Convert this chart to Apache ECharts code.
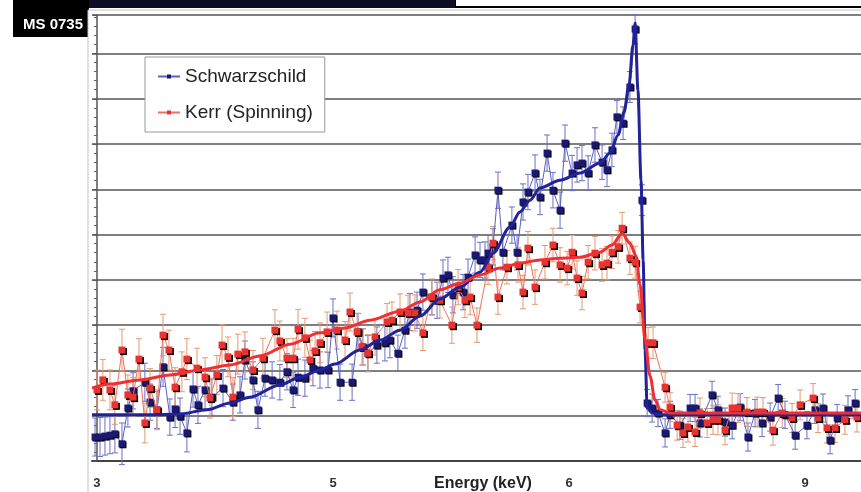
<!DOCTYPE html>
<html>
<head>
<meta charset="utf-8">
<script src="https://cdn.jsdelivr.net/npm/echarts@6/dist/echarts.min.js"></script>
<style>
  html, body { margin: 0; padding: 0; background: #fff; }
  #chart { width: 861px; height: 492px; }
</style>
</head>
<body>
<div id="chart"></div>
<script>
var myChart = echarts.init(document.getElementById('chart'));
var font = 'Liberation Sans, Arial, sans-serif';

// x in label steps (tick 0 = "3", 1 = "5" ...), y in grid steps
var tickPos = [0, 1, 2, 3];
var tickLabels = ['3', '5', '6', '9'];

// [energy, counts, error]
var schwarzschildData = [
    [-0.008,0.53,0.42],[0.013,0.53,0.43],[0.034,0.55,0.42],[0.055,0.57,0.41],[0.076,0.60,0.42],
    [0.106,0.38,0.46],[0.131,1.17,0.42],[0.153,1.55,0.40],[0.203,1.74,0.42],[0.225,1.30,0.40],
    [0.254,1.13,0.41],[0.280,2.08,0.43],[0.309,0.97,0.40],[0.331,1.15,0.41],[0.352,0.99,0.40],
    [0.381,0.62,0.42],[0.407,1.59,0.40],[0.428,1.24,0.41],[0.458,1.57,0.42],[0.487,1.41,0.40],
    [0.534,1.61,0.41],[0.576,1.30,0.40],[0.606,1.46,0.40],[0.627,2.23,0.42],[0.661,1.79,0.40],
    [0.682,1.13,0.41],[0.712,1.83,0.40],[0.742,1.79,0.40],[0.775,1.74,0.39],[0.805,1.97,0.40],
    [0.831,1.57,0.39],[0.852,1.85,0.40],[0.881,1.83,0.40],[0.915,2.05,0.39],[0.945,2.01,0.40],
    [0.979,2.01,0.39],[1.000,3.16,0.42],[1.030,1.74,0.40],[1.081,1.74,0.40],[1.106,2.85,0.41],
    [1.127,2.52,0.40],[1.148,2.38,0.39],[1.186,2.56,0.40],[1.220,2.61,0.40],[1.241,2.67,0.39],
    [1.275,2.38,0.40],[1.305,2.89,0.40],[1.326,3.29,0.41],[1.356,3.33,0.40],[1.381,3.73,0.40],
    [1.419,3.62,0.39],[1.441,3.55,0.40],[1.466,4.04,0.40],[1.487,4.11,0.39],[1.508,3.67,0.40],
    [1.551,3.73,0.39],[1.572,4.06,0.40],[1.602,4.55,0.40],[1.623,4.44,0.39],[1.644,4.44,0.40],
    [1.657,4.59,0.39],[1.678,4.73,0.40],[1.699,5.98,0.40],[1.720,4.61,0.39],[1.758,5.21,0.40],
    [1.780,4.61,0.39],[1.805,5.72,0.40],[1.826,5.94,0.39],[1.856,6.36,0.40],[1.877,5.83,0.39],
    [1.907,6.80,0.40],[1.932,5.98,0.39],[1.962,5.54,0.40],[1.983,7.02,0.40],[2.013,6.36,0.39],
    [2.034,6.54,0.38],[2.055,6.58,0.39],[2.081,6.36,0.38],[2.110,6.98,0.38],[2.140,6.60,0.38],
    [2.161,6.43,0.37],[2.182,6.87,0.37],[2.203,7.60,0.36],[2.229,7.46,0.36],[2.258,8.26,0.34],
    [2.280,9.54,0.32],[2.309,5.76,0.34],[2.331,1.28,0.30],[2.352,1.17,0.31],[2.377,1.06,0.30],
    [2.407,0.62,0.31],[2.428,1.02,0.30],[2.470,0.79,0.31],[2.513,1.17,0.30],[2.534,1.17,0.30],
    [2.555,0.84,0.31],[2.606,1.46,0.30],[2.631,1.13,0.30],[2.661,0.86,0.31],[2.691,0.79,0.30],
    [2.725,1.19,0.30],[2.758,0.53,0.31],[2.788,1.06,0.30],[2.818,0.84,0.30],[2.852,0.97,0.31],
    [2.886,1.39,0.30],[2.915,1.02,0.30],[2.958,0.57,0.31],[3.008,0.79,0.30],[3.042,1.13,0.30],
    [3.076,1.17,0.31],[3.106,0.46,0.30],[3.136,0.95,0.30],[3.182,1.13,0.31],[3.212,1.28,0.30]
];

var kerrData = [
    [0.000,1.57,0.44],[0.025,1.79,0.45],[0.055,1.57,0.44],[0.076,1.24,0.43],[0.106,2.45,0.46],
    [0.131,1.46,0.44],[0.153,1.41,0.43],[0.178,2.25,0.45],[0.203,0.84,0.44],[0.225,1.61,0.43],
    [0.254,1.13,0.44],[0.280,2.78,0.46],[0.305,2.45,0.44],[0.331,1.63,0.43],[0.360,1.97,0.44],
    [0.381,2.25,0.45],[0.424,2.05,0.44],[0.458,1.85,0.43],[0.479,1.39,0.44],[0.508,1.90,0.43],
    [0.530,2.56,0.45],[0.555,2.30,0.44],[0.576,1.41,0.43],[0.597,2.36,0.44],[0.627,2.41,0.44],
    [0.661,2.01,0.43],[0.703,2.27,0.44],[0.754,2.89,0.45],[0.775,2.65,0.44],[0.805,2.27,0.43],
    [0.831,2.27,0.44],[0.852,2.91,0.44],[0.881,2.72,0.43],[0.903,2.23,0.44],[0.924,2.43,0.43],
    [0.945,2.61,0.44],[0.975,2.85,0.44],[1.017,2.89,0.42],[1.051,2.67,0.41],[1.072,3.29,0.42],
    [1.102,2.85,0.41],[1.123,2.52,0.40],[1.148,2.38,0.41],[1.178,2.74,0.40],[1.229,3.07,0.41],
    [1.250,3.11,0.40],[1.284,3.29,0.40],[1.318,3.27,0.39],[1.347,3.27,0.40],[1.381,2.83,0.39],
    [1.419,3.62,0.40],[1.453,3.55,0.39],[1.504,3.00,0.40],[1.530,3.84,0.39],[1.559,3.55,0.38],
    [1.581,3.62,0.39],[1.610,3.00,0.38],[1.657,4.28,0.38],[1.678,4.81,0.37],[1.699,3.62,0.38],
    [1.737,4.28,0.37],[1.784,4.33,0.38],[1.805,3.73,0.37],[1.826,4.70,0.37],[1.856,3.84,0.38],
    [1.898,4.39,0.37],[1.932,4.77,0.37],[1.962,4.33,0.38],[1.992,4.26,0.37],[2.013,4.61,0.37],
    [2.034,4.04,0.38],[2.055,3.71,0.37],[2.081,4.39,0.37],[2.110,4.59,0.37],[2.140,4.33,0.36],
    [2.161,4.37,0.37],[2.182,4.61,0.36],[2.208,4.73,0.36],[2.225,5.14,0.35],[2.258,4.48,0.36],
    [2.280,4.39,0.35],[2.301,3.40,0.35],[2.335,2.61,0.34],[2.356,2.61,0.35],[2.407,1.63,0.33],
    [2.428,1.19,0.32],[2.458,0.79,0.33],[2.483,0.62,0.32],[2.504,0.75,0.33],[2.534,0.64,0.32],
    [2.555,1.06,0.33],[2.585,0.84,0.32],[2.610,0.91,0.32],[2.631,0.91,0.33],[2.661,0.68,0.32],
    [2.691,1.17,0.33],[2.716,1.17,0.32],[2.754,1.08,0.32],[2.797,1.08,0.33],[2.822,1.08,0.32],
    [2.864,0.68,0.33],[2.903,1.06,0.32],[2.945,0.95,0.32],[2.979,1.24,0.33],[3.034,1.39,0.32],
    [3.055,0.95,0.32],[3.093,0.73,0.33],[3.127,0.73,0.32],[3.169,0.91,0.32],[3.220,0.97,0.33]
];

var schwarzschildModel = [
    [-0.021,1.02],[0.140,1.02],[0.254,1.02],[0.352,1.04],[0.466,1.13],[0.564,1.28],[0.648,1.41],
    [0.775,1.68],[0.860,1.85],[0.945,2.01],[1.008,2.14],[1.114,2.45],[1.199,2.67],[1.284,2.89],
    [1.369,3.20],[1.453,3.58],[1.538,3.84],[1.623,4.17],[1.678,4.59],[1.750,5.17],[1.792,5.50],
    [1.835,5.76],[1.877,6.03],[1.962,6.20],[2.047,6.36],[2.131,6.58],[2.174,6.80],[2.208,7.20],
    [2.233,7.71],[2.254,8.30],[2.271,9.19],[2.280,9.67],[2.292,8.19],[2.305,6.20],[2.314,4.44],
    [2.322,2.45],[2.331,1.17],[2.352,1.06],[2.386,1.02],[3.237,1.02]
];

var kerrModel = [
    [-0.021,1.61],[0.055,1.70],[0.182,1.79],[0.309,1.90],[0.436,2.01],[0.564,2.12],[0.691,2.32],
    [0.818,2.58],[0.945,2.83],[1.051,2.94],[1.157,3.11],[1.284,3.31],[1.369,3.51],[1.453,3.78],
    [1.538,3.93],[1.623,4.11],[1.708,4.26],[1.792,4.37],[1.877,4.44],[1.962,4.48],[2.047,4.50],
    [2.131,4.61],[2.182,4.77],[2.225,5.03],[2.258,4.81],[2.284,4.53],[2.301,3.89],[2.322,2.67],
    [2.343,1.88],[2.364,1.35],[2.386,1.13],[2.428,1.06],[3.237,1.06]
];

function errorBars(params, api) {
    var x = api.value(0), y = api.value(1), e = api.value(2);
    var hi = api.coord([x, y + e]);
    var lo = api.coord([x, y - e]);
    var style = { stroke: api.visual('color'), lineWidth: 1 };
    return {
        type: 'group',
        children: [
            { type: 'line', shape: { x1: hi[0], y1: hi[1], x2: lo[0], y2: lo[1] }, style: style },
            { type: 'line', shape: { x1: hi[0] - 3, y1: hi[1], x2: hi[0] + 3, y2: hi[1] }, style: style },
            { type: 'line', shape: { x1: lo[0] - 3, y1: lo[1], x2: lo[0] + 3, y2: lo[1] }, style: style }
        ]
    };
}

var option = {
    animation: false,
    textStyle: { fontFamily: font },
    graphic: [
        { type: 'rect', z: -10, shape: { x: 13, y: 0, width: 442, height: 8 }, style: { fill: '#0d0c24' } },
        { type: 'rect', z: -10, shape: { x: 13, y: 0, width: 76, height: 37 }, style: { fill: '#000' } },
        { type: 'text', z: -10, x: 23, y: 25, style: { text: 'MS 0735', fill: '#fff', font: 'bold 15px Liberation Sans', verticalAlign: 'middle' } },
        { type: 'rect', z: -10, shape: { x: 455, y: 6, width: 406, height: 2 }, style: { fill: '#000' } },
        { type: 'rect', z: -10, shape: { x: 455, y: 0, width: 1, height: 8 }, style: { fill: '#000' } },
        { type: 'rect', z: -5, shape: { x: 88, y: 10, width: 800, height: 500 }, style: { fill: '#fff', stroke: '#c4c4c4', lineWidth: 1 } }
    ],
    legend: {
        data: ['Schwarzschild', 'Kerr (Spinning)'],
        orient: 'vertical',
        left: 145,
        top: 57,
        padding: [10, 12, 10, 12],
        itemGap: 17,
        itemWidth: 22,
        itemHeight: 5,
        backgroundColor: '#fff',
        borderColor: '#999',
        borderWidth: 1,
        textStyle: { fontSize: 19, color: '#222', fontFamily: font }
    },
    grid: { left: 92, right: 0, top: 15, bottom: 31, outerBoundsMode: 'none', containLabel: false },
    xAxis: {
        type: 'value',
        min: -0.021,
        max: 3.237,
        splitLine: { show: false },
        axisLine: { lineStyle: { color: '#444', width: 2 } },
        axisTick: { show: false },
        axisLabel: {
            customValues: tickPos,
            formatter: function (v) { return tickLabels[tickPos.indexOf(v)]; },
            margin: 16,
            color: '#333',
            fontWeight: 'bold',
            fontSize: 13
        },
        name: 'Energy (keV)',
        nameLocation: 'middle',
        nameGap: 15,
        nameMoveOverlap: false,
        nameTextStyle: { fontWeight: 'bold', fontSize: 16, color: '#222', padding: [0, 0, 0, 13] }
    },
    yAxis: {
        type: 'value',
        min: 0,
        max: 9.85,
        interval: 1,
        axisLabel: { show: false },
        axisLine: { show: true, lineStyle: { color: '#555', width: 1.5 } },
        axisTick: { show: true, length: 4, lineStyle: { color: '#555' } },
        minorTick: { show: true, splitNumber: 5, length: 3, lineStyle: { color: '#666' } },
        splitLine: { lineStyle: { color: '#555', width: 1.5 } }
    },
    series: [
        {
            name: 'Schwarzschild err',
            type: 'custom',
            renderItem: errorBars,
            itemStyle: { color: '#6a70c8' },
            encode: { x: 0, y: 1 },
            data: schwarzschildData,
            z: 1
        },
        {
            name: 'Kerr err',
            type: 'custom',
            renderItem: errorBars,
            itemStyle: { color: '#e59a70' },
            encode: { x: 0, y: 1 },
            data: kerrData,
            z: 1
        },
        {
            name: 'Schwarzschild',
            type: 'line',
            data: schwarzschildData,
            showAllSymbol: true,
            symbol: 'rect',
            symbolSize: 7,
            lineStyle: { color: '#5a5fc0', width: 1 },
            itemStyle: { color: '#1a1870', shadowColor: '#000', shadowOffsetX: 1, shadowOffsetY: 1 },
            z: 2
        },
        {
            name: 'Kerr (Spinning)',
            type: 'line',
            data: kerrData,
            showAllSymbol: true,
            symbol: 'rect',
            symbolSize: 7,
            lineStyle: { color: '#f07060', width: 1 },
            itemStyle: { color: '#e83330', shadowColor: '#000', shadowOffsetX: 1.5, shadowOffsetY: 1.5 },
            z: 3
        },
        {
            name: 'Schwarzschild model',
            type: 'line',
            data: schwarzschildModel,
            smooth: 0.3,
            smoothMonotone: 'x',
            showSymbol: false,
            lineStyle: { color: '#22229a', width: 3 },
            z: 4
        },
        {
            name: 'Kerr model',
            type: 'line',
            data: kerrModel,
            smooth: 0.3,
            smoothMonotone: 'x',
            showSymbol: false,
            lineStyle: { color: '#f03030', width: 3 },
            z: 4
        }
    ]
};

myChart.setOption(option);
</script>
</body>
</html>
